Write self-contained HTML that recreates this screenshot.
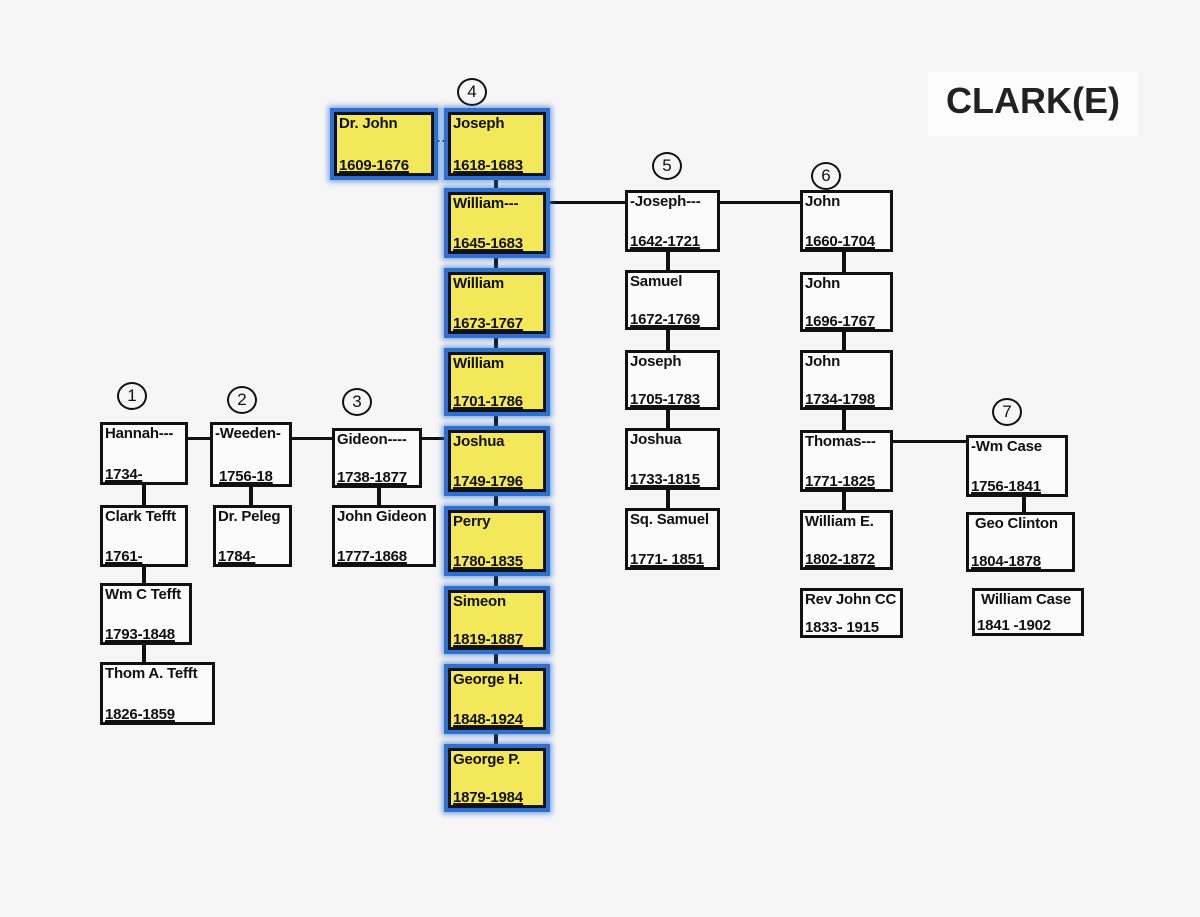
<!DOCTYPE html>
<html><head><meta charset="utf-8"><style>
body{margin:0;width:1200px;height:917px;background:#f6f6f6;position:relative;overflow:hidden;font-family:"Liberation Sans",sans-serif;}
.b{position:absolute;box-sizing:border-box;border:3px solid #111;background:#fbfbfb;}
.y{background:#f3e85a;box-shadow:0 0 0 4px #2f6fd0,0 0 5px 6px rgba(47,111,208,.6);}
.b span{position:absolute;left:2px;font-size:15px;font-weight:bold;color:#111;white-space:nowrap;letter-spacing:-0.2px}
.b .n{top:0}
.b .d{bottom:-1px;text-decoration:underline;text-decoration-thickness:2px}
.l{position:absolute;background:#111;}
.c{position:absolute;width:26px;height:24px;border:2px solid #111;border-radius:50%;font-size:17px;text-align:center;line-height:24px;color:#111;}
</style></head><body>
<div style="position:absolute;left:928px;top:72px;width:210px;height:64px;background:#fcfcfc;font-weight:bold;font-size:36px;color:#222;text-align:center;line-height:58px">CLARK(E)</div>

<div class="c" style="left:117px;top:382px">1</div>
<div class="c" style="left:227px;top:386px">2</div>
<div class="c" style="left:342px;top:388px">3</div>
<div class="c" style="left:457px;top:78px">4</div>
<div class="c" style="left:652px;top:152px">5</div>
<div class="c" style="left:811px;top:162px">6</div>
<div class="c" style="left:992px;top:398px">7</div>

<!-- connectors -->
<div class="l" style="left:434px;top:140px;width:14px;height:2px;border-top:2px dashed #111;background:none"></div>
<div class="l" style="left:544px;top:201px;width:258px;height:3px"></div>
<div class="l" style="left:890px;top:440px;width:78px;height:3px"></div>
<div class="l" style="left:186px;top:437px;width:264px;height:3px"></div>
<div class="l" style="left:494px;top:176px;width:4px;height:580px"></div>
<div class="l" style="left:666px;top:250px;width:4px;height:260px"></div>
<div class="l" style="left:842px;top:250px;width:4px;height:262px"></div>
<div class="l" style="left:1022px;top:495px;width:4px;height:18px"></div>
<div class="l" style="left:142px;top:484px;width:4px;height:180px"></div>
<div class="l" style="left:249px;top:486px;width:4px;height:20px"></div>
<div class="l" style="left:377px;top:486px;width:4px;height:20px"></div>

<!-- center column -->
<div class="b y" style="left:334px;top:112px;width:100px;height:64px"><span class="n">Dr. John</span><span class="d">1609-1676</span></div>
<div class="b y" style="left:448px;top:112px;width:98px;height:64px"><span class="n">Joseph</span><span class="d">1618-1683</span></div>
<div class="b y" style="left:448px;top:192px;width:98px;height:62px"><span class="n">William---</span><span class="d">1645-1683</span></div>
<div class="b y" style="left:448px;top:272px;width:98px;height:62px"><span class="n">William</span><span class="d">1673-1767</span></div>
<div class="b y" style="left:448px;top:352px;width:98px;height:60px"><span class="n">William</span><span class="d">1701-1786</span></div>
<div class="b y" style="left:448px;top:430px;width:98px;height:62px"><span class="n">Joshua</span><span class="d">1749-1796</span></div>
<div class="b y" style="left:448px;top:510px;width:98px;height:62px"><span class="n">Perry</span><span class="d">1780-1835</span></div>
<div class="b y" style="left:448px;top:590px;width:98px;height:60px"><span class="n">Simeon</span><span class="d">1819-1887</span></div>
<div class="b y" style="left:448px;top:668px;width:98px;height:62px"><span class="n">George H.</span><span class="d">1848-1924</span></div>
<div class="b y" style="left:448px;top:748px;width:98px;height:60px"><span class="n">George P.</span><span class="d">1879-1984</span></div>

<!-- col 5 -->
<div class="b" style="left:625px;top:190px;width:95px;height:62px"><span class="n">-Joseph---</span><span class="d">1642-1721</span></div>
<div class="b" style="left:625px;top:270px;width:95px;height:60px"><span class="n">Samuel</span><span class="d">1672-1769</span></div>
<div class="b" style="left:625px;top:350px;width:95px;height:60px"><span class="n">Joseph</span><span class="d">1705-1783</span></div>
<div class="b" style="left:625px;top:428px;width:95px;height:62px"><span class="n">Joshua</span><span class="d">1733-1815</span></div>
<div class="b" style="left:625px;top:508px;width:95px;height:62px"><span class="n">Sq. Samuel</span><span class="d">1771- 1851</span></div>

<!-- col 6 -->
<div class="b" style="left:800px;top:190px;width:93px;height:62px"><span class="n">John</span><span class="d">1660-1704</span></div>
<div class="b" style="left:800px;top:272px;width:93px;height:60px"><span class="n">John</span><span class="d">1696-1767</span></div>
<div class="b" style="left:800px;top:350px;width:93px;height:60px"><span class="n">John</span><span class="d">1734-1798</span></div>
<div class="b" style="left:800px;top:430px;width:93px;height:62px"><span class="n">Thomas---</span><span class="d">1771-1825</span></div>
<div class="b" style="left:800px;top:510px;width:93px;height:60px"><span class="n">William E.</span><span class="d">1802-1872</span></div>
<div class="b" style="left:800px;top:588px;width:103px;height:50px"><span class="n">Rev John CC</span><span class="d" style="text-decoration:none">1833- 1915</span></div>

<!-- col 7 -->
<div class="b" style="left:966px;top:435px;width:102px;height:62px"><span class="n">-Wm Case</span><span class="d">1756-1841</span></div>
<div class="b" style="left:966px;top:512px;width:109px;height:60px"><span class="n" style="left:6px">Geo Clinton</span><span class="d">1804-1878</span></div>
<div class="b" style="left:972px;top:588px;width:112px;height:48px"><span class="n" style="left:6px">William Case</span><span class="d" style="text-decoration:none">1841 -1902</span></div>

<!-- col 1-3 -->
<div class="b" style="left:100px;top:422px;width:88px;height:63px"><span class="n">Hannah---</span><span class="d">1734-</span></div>
<div class="b" style="left:100px;top:505px;width:88px;height:62px"><span class="n">Clark Tefft</span><span class="d">1761-</span></div>
<div class="b" style="left:100px;top:583px;width:92px;height:62px"><span class="n">Wm C Tefft</span><span class="d">1793-1848</span></div>
<div class="b" style="left:100px;top:662px;width:115px;height:63px"><span class="n">Thom A. Tefft</span><span class="d">1826-1859</span></div>
<div class="b" style="left:210px;top:422px;width:82px;height:65px"><span class="n">-Weeden-</span><span class="d" style="left:6px">1756-18</span></div>
<div class="b" style="left:213px;top:505px;width:79px;height:62px"><span class="n">Dr. Peleg</span><span class="d">1784-</span></div>
<div class="b" style="left:332px;top:428px;width:90px;height:60px"><span class="n">Gideon----</span><span class="d">1738-1877</span></div>
<div class="b" style="left:332px;top:505px;width:104px;height:62px"><span class="n">John Gideon</span><span class="d">1777-1868</span></div>
</body></html>
